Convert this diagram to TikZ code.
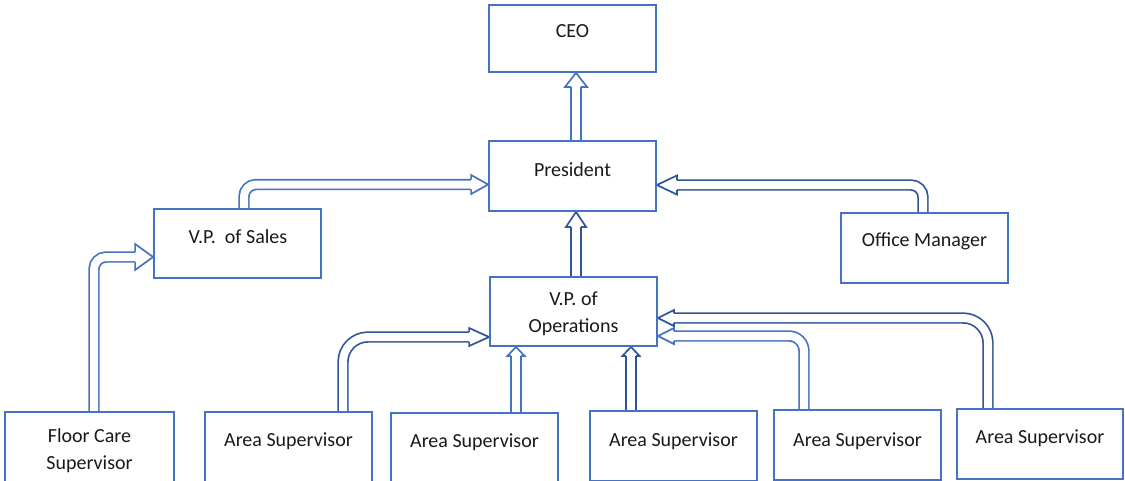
\documentclass[tikz,border=0pt]{standalone}
\usepackage{fontspec}
\setmainfont{Carlito}
\usetikzlibrary{calc,backgrounds}

\definecolor{boxblue}{HTML}{4472C4}
\definecolor{arrowlite}{HTML}{4472C4}
\definecolor{arrowdark}{HTML}{2F5597}

% open block-arrow head: #1 tip, #2 direction, #3 colour, #4 length, #5 half width
\newcommand{\hollowhead}[5]{%
  \filldraw[fill=white, draw=#3, line width=1.7pt, line join=miter,
            shift={(#1)}, rotate=#2]
    (-#4,4.85) -- (-#4,#5) -- (0,0) -- (-#4,-#5) -- (-#4,-4.85);}

\tikzset{
  box/.style={draw=boxblue, line width=1.8pt, minimum width=167pt,
              minimum height=70pt, inner sep=0pt},
  lbl/.style={font=\fontsize{20}{27}\selectfont, text=black!90, inner sep=0pt,
              align=center},
  shaft/.style={line width=1.7pt, double=white, double distance=8pt},
  lite/.style={draw=arrowlite},
  dark/.style={draw=arrowdark},
}

\begin{document}
\begin{tikzpicture}[x=1pt, y=-1pt]
\useasboundingbox (0,0) rectangle (1125,480);
\clip (0,0) rectangle (1125,480);

% boxes
\node[box, minimum height=67pt] (ceo)   at (572.5,38.5) {};
\node[box]                      (pres)  at (572.5,176)  {};
\node[box, minimum height=69pt] (sales) at (237.5,243.5) {};
\node[box]                      (om)    at (924.5,248)  {};
\node[box, minimum height=69pt] (ops)   at (573.5,311.5) {};
\node[box, minimum width=169pt] (fc)    at (89.5,447)   {};
\node[box]                      (as1)   at (288.5,447)  {};
\node[box]                      (as2)   at (474.5,448)  {};
\node[box]                      (as3)   at (673.5,446)  {};
\node[box]                      (as4)   at (857.5,445)  {};
\node[box, minimum width=166pt] (as5)   at (1040,444)   {};

% labels (two-line labels are placed by the baseline of their last line)
\node[lbl, anchor=base] (ceo-t)   at (572.5,37)  {CEO};
\node[lbl, anchor=base] (pres-t)  at (572.5,176) {President};
\node[lbl, anchor=base] (sales-t) at (238,243)   {V.P.\ \ of Sales};
\node[lbl, anchor=base] (om-t)    at (924.5,246) {Office Manager};
\node[lbl, anchor=base] (ops-t)   at (573.5,332) {V.P. of\\Operations};
\node[lbl, anchor=base] (fc-t)    at (89.5,469)  {Floor Care\\Supervisor};
\node[lbl, anchor=base] (as1-t)   at (288.5,446) {Area Supervisor};
\node[lbl, anchor=base] (as2-t)   at (474.5,447) {Area Supervisor};
\node[lbl, anchor=base] (as3-t)   at (673.5,446) {Area Supervisor};
\node[lbl, anchor=base] (as4-t)   at (857.5,446) {Area Supervisor};
\node[lbl, anchor=base] (as5-t)   at (1040,443)  {Area Supervisor};

% reporting arrows, drawn beneath the boxes
\begin{scope}[on background layer]
  % President -> CEO
  \coordinate (t1) at ($(ceo.south)+(3.5,0)$);
  \draw[shaft, lite] ($(pres.north)+(3.5,0)$) -- ($(t1)+(0,14)$);
  \hollowhead{t1}{90}{arrowlite}{14}{11}

  % V.P. of Sales -> President
  \coordinate (t2) at ($(pres.west)+(0,8.5)$);
  \draw[shaft, lite, rounded corners=12pt] ($(sales.north)+(6.5,0)$) |- ($(t2)+(-17,0)$);
  \hollowhead{t2}{0}{arrowlite}{17}{9.5}

  % Office Manager -> President
  \coordinate (t3) at ($(pres.east)+(0,9)$);
  \draw[shaft, dark, rounded corners=12pt] ($(om.north)+(-1.5,0)$) |- ($(t3)+(20,0)$);
  \hollowhead{t3}{180}{arrowdark}{20}{9.5}

  % V.P. of Operations -> President
  \coordinate (t4) at ($(pres.south)+(3.5,0)$);
  \draw[shaft, dark] ($(ops.north)+(2.5,0)$) -- ($(t4)+(0,15)$);
  \hollowhead{t4}{90}{arrowdark}{15}{10}

  % Floor Care Supervisor -> V.P. of Sales
  \coordinate (t5) at ($(sales.west)+(0,13.5)$);
  \draw[shaft, lite, rounded corners=12pt] ($(fc.north)+(4.5,0)$) |- ($(t5)+(-18,0)$);
  \hollowhead{t5}{0}{arrowlite}{18}{13}

  % Area Supervisors -> V.P. of Operations
  \coordinate (t6) at ($(ops.west)+(0,25.5)$);
  \draw[shaft, dark, rounded corners=25pt] ($(as1.north)+(54.5,0)$) |- ($(t6)+(-20,0)$);
  \hollowhead{t6}{0}{arrowdark}{20}{9}

  \coordinate (t7) at ($(ops.south)+(-57.5,0)$);
  \draw[shaft, lite] ($(as2.north)+(41.5,0)$) -- ($(t7)+(0,9)$);
  \hollowhead{t7}{90}{arrowlite}{9}{8.5}

  \coordinate (t8) at ($(ops.south)+(57.5,0)$);
  \draw[shaft, dark] ($(as3.north)+(-42.5,0)$) -- ($(t8)+(0,9)$);
  \hollowhead{t8}{90}{arrowdark}{9}{8.5}

  \coordinate (t9) at ($(ops.east)+(0,24.5)$);
  \draw[shaft, lite, rounded corners=15pt] ($(as4.north)+(-53.5,0)$) |- ($(t9)+(16,0)$);
  \hollowhead{t9}{180}{arrowlite}{16}{8}

  \coordinate (t10) at ($(ops.east)+(0,6.5)$);
  \draw[shaft, dark, rounded corners=25pt] ($(as5.north)+(-52,0)$) |- ($(t10)+(16,0)$);
  \hollowhead{t10}{180}{arrowdark}{16}{8}
\end{scope}
\end{tikzpicture}
\end{document}
